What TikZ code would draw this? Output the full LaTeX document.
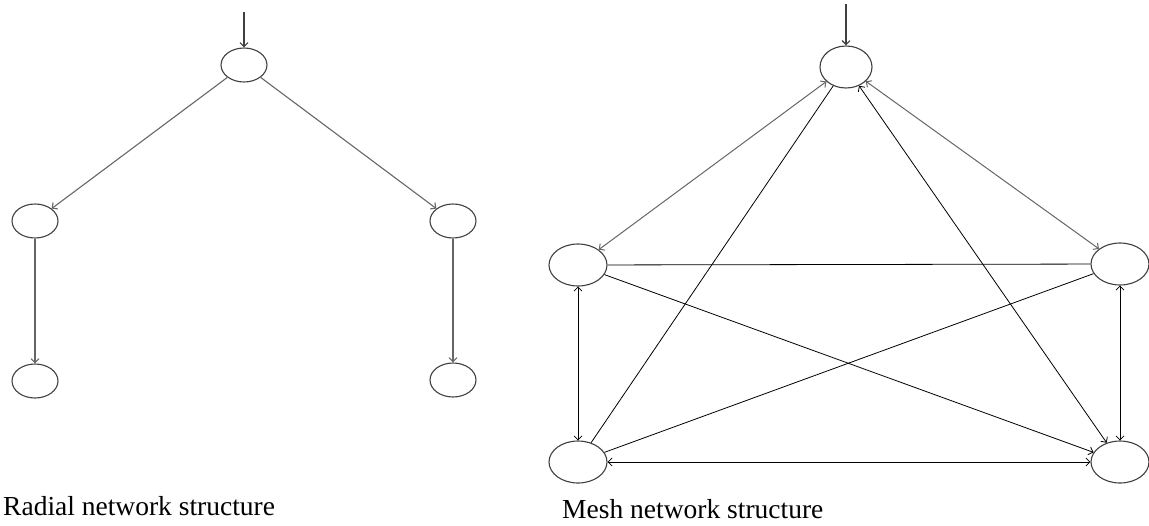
\documentclass[tikz,border=0pt]{standalone}
\usepackage{fontspec}
\setmainfont{Liberation Serif}
\usetikzlibrary{arrows.meta,positioning,shapes.geometric}
\tikzset{
  % BUS NODES
  frameBus/.style={
    ellipse,
    draw=black!75,
    line width=1.1pt,
    inner sep=0pt,
    minimum width=46pt,
    minimum height=34pt
  },
  frameBusBig/.style={
    frameBus,
    minimum width=58pt,
    minimum height=42pt
  },
  % CAPTIONS
  frameCaption/.style={
    inner sep=0pt,
    anchor=base west,
    font=\fontsize{27.5}{30}\selectfont
  },
  barb/.tip={Straight Barb[length=4pt,width=8pt]},
  % FEEDERS
  lineFeed/.style={
    draw=black!75,line width=1.2pt,-barb
  },
  lineRadial/.style={
    draw=black!60,line width=1.1pt,-barb
  },
  % MESH LINKS
  lineMesh/.style={
    draw=black,line width=0.8pt
  },
  lineMeshBoth/.style={
    draw=black,line width=0.8pt,barb-barb
  },
  lineMeshGrey/.style={
    draw=black!60,line width=1pt,barb-barb
  }
}
\begin{document}
\begin{tikzpicture}[x=1pt,y=-1pt]
\useasboundingbox (0,0) rectangle (1149,525);

% Radial network
\node [frameBus] (radial_top) at (244,65) {} ;
\node [frameBus] (radial_left) at (35,221) {} ;
\node [frameBus] (radial_right) at (453,221) {} ;
\node [frameBus] (radial_left_end) at (35,381) {} ;
\node [frameBus] (radial_right_end) at (453,380) {} ;
\coordinate (radial_in) at (244,12) ;

\path [lineFeed] (radial_in) -- (radial_top.north) ;
\path [lineRadial] (radial_top) -- (radial_left) ;
\path [lineRadial] (radial_top) -- (radial_right) ;
\path [lineRadial] (radial_left) -- (radial_left_end) ;
\path [lineRadial] (radial_right) -- (radial_right_end) ;

% Mesh network
\node [frameBusBig, minimum width=52pt] (mesh_top) at (846,67) {} ;
\node [frameBusBig] (mesh_left) at (578,265) {} ;
\node [frameBusBig] (mesh_right) at (1120,264) {} ;
\node [frameBusBig] (mesh_left_end) at (578,462) {} ;
\node [frameBusBig] (mesh_right_end) at (1120,462) {} ;
\coordinate (mesh_in) at (846,4) ;

\path [lineFeed] (mesh_in) -- (mesh_top.north) ;
\path [lineMeshGrey] (mesh_top) -- (mesh_left) ;
\path [lineMeshGrey] (mesh_top) -- (mesh_right) ;
\path [lineMesh] (mesh_top) -- (mesh_left_end) ;
\path [lineMeshBoth] (mesh_top) -- (mesh_right_end) ;
\path [lineMesh] (mesh_left) -- (mesh_right) ;
\path [lineMesh,-barb] (mesh_left) -- (mesh_right_end) ;
\path [lineMesh] (mesh_left_end) -- (mesh_right) ;
\path [lineMeshBoth] (mesh_left) -- (mesh_left_end) ;
\path [lineMeshBoth] (mesh_right) -- (mesh_right_end) ;
\path [lineMeshBoth] (mesh_left_end) -- (mesh_right_end) ;

% Captions
\node [frameCaption] (caption_radial) at (3,515) {Radial network structure} ;
\node [frameCaption] (caption_mesh) at (562,518) {Mesh network structure} ;

\end{tikzpicture}
\end{document}
